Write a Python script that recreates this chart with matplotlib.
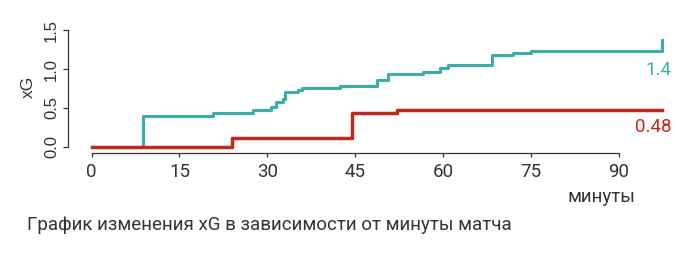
import numpy as np
import matplotlib as mpl
import matplotlib.pyplot as plt

mpl.rcParams['font.family'] = ['Roboto', 'DejaVu Sans']

# cumulative xG by minute (step changes)
teal_min = [0, 8.7, 20.7, 27.6, 30.6, 31.4, 32.6, 33.0, 35.2, 35.9, 42.4, 48.7,
            50.6, 56.6, 59.5, 60.9, 68.3, 71.9, 75.1, 97.4, 97.4]
teal_xg = [0, 0.40, 0.435, 0.48, 0.51, 0.58, 0.62, 0.70, 0.735, 0.757, 0.79, 0.86,
           0.94, 0.97, 1.01, 1.05, 1.18, 1.21, 1.24, 1.24, 1.38]
red_min = [0, 24.0, 44.5, 52.1, 97.4]
red_xg = [0, 0.116, 0.435, 0.48, 0.48]

teal_total = '1.4'
red_total = '0.48'
xticks = [0, 15, 30, 45, 60, 75, 90]
yticks = [0.0, 0.5, 1.0, 1.5]

teal = '#3aaeaa'
red = '#c2281e'
grey = '#333333'
fs = 13.5

W, H = 700, 262
fig = plt.figure(figsize=(W / 100, H / 100), dpi=100)
# axes placed so that minute 0 -> x=91.7px, 90 -> 618.7px; xG 0 -> y=146.7px
ax = fig.add_axes([85.8 / W, (H - 150.6) / H, (671.4 - 85.8) / W, (150.6 - 26.6) / H])
ax.set_xlim(-1, 99)
ax.set_ylim(-0.05, 1.55)

ax.step(teal_min, teal_xg, where='post', color=teal, lw=2.2, zorder=2)
ax.step(red_min, red_xg, where='post', color=red, lw=2.5, zorder=3)

for s in ['top', 'right']:
    ax.spines[s].set_visible(False)
ax.spines['left'].set_position(('outward', 12.6))
ax.spines['bottom'].set_position(('outward', 2.0))
ax.spines['left'].set_bounds(0, 1.5)
ax.spines['bottom'].set_bounds(0, 90)
for s in ['left', 'bottom']:
    ax.spines[s].set_color(grey)
    ax.spines[s].set_linewidth(0.9)

ax.set_xticks(xticks)
ax.set_xticklabels([str(v) for v in xticks], fontsize=fs, color=grey)
ax.tick_params(axis='x', length=3, width=0.9, color=grey, pad=4)
ax.set_yticks(yticks)
ax.set_yticklabels(['%.1f' % v for v in yticks], fontsize=12, color=grey,
                   family='Liberation Sans', rotation=90, va='center')
ax.tick_params(axis='y', length=3.6, width=0.9, color=grey, pad=3)

fig.text(671.7 / W, (H - 70) / H, teal_total, ha='right', va='center',
         fontsize=fs, color=teal)
fig.text(671.7 / W, (H - 127.3) / H, red_total, ha='right', va='center',
         fontsize=fs, color=red)

fig.text(28.3 / W, (H - 86.7) / H, 'xG', rotation=90, ha='center', va='center',
         fontsize=12.5, family='Liberation Sans', color=grey)
fig.text(601.7 / W, (H - 196.7) / H, 'минуты', ha='center', va='center',
         fontsize=fs, color=grey)
fig.text(26.7 / W, (H - 225) / H, 'График изменения xG в зависимости от минуты матча',
         ha='left', va='center', fontsize=fs, color=grey)

fig.savefig('out.png', dpi=100)
